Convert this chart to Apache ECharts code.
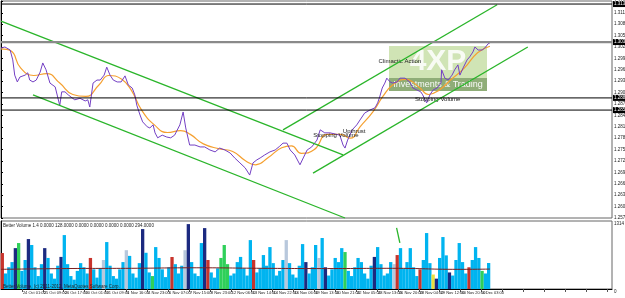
<!DOCTYPE html>
<html><head><meta charset="utf-8">
<script src="https://cdn.jsdelivr.net/npm/echarts@6/dist/echarts.min.js"></script>
<style>html,body{margin:0;padding:0;background:#fff}#c{width:625px;height:298px}</style>
</head><body><div id="c"></div>
<script>
// time labels, one every 32 hourly bars
const timeLabels = ["22 Oct 2012","24 Oct 01:00","25 Oct 09:00","26 Oct 17:00","30 Oct 01:00","31 Oct 09:00","1 Nov 16:00","4 Nov 23:00","6 Nov 07:00","7 Nov 15:00","8 Nov 23:00","12 Nov 06:00","13 Nov 14:00","14 Nov 22:00","16 Nov 06:00","19 Nov 13:00","20 Nov 21:00","22 Nov 05:00","23 Nov 13:00","26 Nov 20:00","28 Nov 04:00","29 Nov 12:00","30 Nov 20:00","4 Dec 03:00"];
// price (bar index, close)
const priceBars = [0,6,14,18,21,25,29,37,41,44,49,54,60,64,69,75,83,90,93,98,103,109,113,121,129,133,136,141,147,152,158,162,167,172,178,184,190,195,201,205,208,213,217,224,228,233,236,240,247,254,260,266,274,279,283,289,297,305,312,320,328,335,343,351,358,366,374,381,386,392,397,404,412,420,427,432,438,443,450,458,463,469,476,484,489,496,504,512,519,524,527,531,538,545,550,557,565,573,577,580,584,588,591,596,600,607,611,619,626,631,637,643,646,652,657,662,668,674,675,680,685,691,695,700,703,708,714,718,723,726,731,737,741,746,749];
const priceVals = [1.3017,1.3020,1.3012,1.2986,1.2946,1.2928,1.2941,1.2946,1.2952,1.2933,1.2928,1.2933,1.2954,1.2978,1.2960,1.2925,1.2915,1.2866,1.2902,1.2902,1.2894,1.2886,1.2881,1.2885,1.2878,1.2881,1.2862,1.2925,1.2933,1.2933,1.2946,1.2967,1.2946,1.2933,1.2928,1.2928,1.2944,1.2920,1.2912,1.2894,1.2867,1.2841,1.2823,1.2810,1.2807,1.2815,1.2794,1.2781,1.2788,1.2783,1.2781,1.2788,1.2815,1.2849,1.2807,1.2762,1.2762,1.2757,1.2757,1.2749,1.2744,1.2754,1.2749,1.2741,1.2728,1.2715,1.2702,1.2683,1.2715,1.2723,1.2728,1.2736,1.2744,1.2749,1.2759,1.2767,1.2767,1.2749,1.2736,1.2710,1.2728,1.2749,1.2757,1.2775,1.2802,1.2794,1.2794,1.2791,1.2788,1.2762,1.2754,1.2775,1.2802,1.2815,1.2828,1.2846,1.2854,1.2860,1.2873,1.2888,1.2912,1.2925,1.2938,1.2928,1.2925,1.2928,1.2938,1.2938,1.2928,1.2912,1.2907,1.2902,1.2894,1.2873,1.2894,1.2907,1.2912,1.2925,1.2960,1.2938,1.2933,1.2946,1.2960,1.2973,1.2946,1.2965,1.2986,1.2994,1.3007,1.3020,1.3012,1.3012,1.3017,1.3028,1.3031];
// moving average of price
const maBars = [0,15,30,50,70,90,110,130,150,165,185,200,215,235,255,275,290,310,335,355,375,390,410,430,445,460,480,500,520,535,550,570,585,600,620,640,655,670,690,710,730,749];
const maVals = [1.3015,1.3010,1.2965,1.2945,1.2950,1.2925,1.2895,1.2890,1.2920,1.2945,1.2935,1.2905,1.2855,1.2815,1.2795,1.2800,1.2790,1.2765,1.2752,1.2745,1.2720,1.2710,1.2730,1.2755,1.2760,1.2740,1.2750,1.2790,1.2790,1.2780,1.2810,1.2850,1.2890,1.2920,1.2935,1.2915,1.2895,1.2905,1.2935,1.2965,1.3005,1.3022];
// horizontal levels
const levels = [1.3133, 1.2886, 1.2854];
const bidLevel = 1.3033;
// trend lines [bar, price] pairs
const trendLines = [
  [[0,1.3088],[524,1.2736]],
  [[49,1.2894],[527,1.2570]],
  [[432,1.2802],[760,1.3131]],
  [[478,1.2688],[807,1.3020]]
];
// volume, one value per 5 bars; codes: c cyan, w white, g green, r red, n navy, y yellow
const volVals = [695,300,420,520,790,888,350,560,965,850,420,250,480,790,600,300,200,450,620,1042,480,250,180,350,500,420,300,600,380,220,400,560,907,450,250,200,380,520,750,640,300,220,500,1158,700,320,250,810,600,380,230,420,618,480,300,450,750,1254,520,300,250,888,1177,560,320,220,400,600,850,480,260,300,520,620,400,260,945,560,320,400,656,450,810,500,260,350,560,945,500,280,220,450,868,520,300,420,850,600,985,420,260,380,600,520,790,714,350,250,420,600,520,300,200,450,620,810,480,260,300,520,480,656,790,400,520,790,420,250,380,560,1081,500,280,200,600,1004,650,320,260,560,888,520,300,420,560,810,600,350,300,502];
const volCodes = "rcccngccnccccnccccnccccccccrcccwccccccwccccnccgcccccrcccwnccccnrcccgggcccccccrcccccccccwcccccncccwcncccccgccccccccncccccwrccccccrcccyncccncccccrcccg";
const volMABars = [0,100,200,300,400,500,600,700,749];
const volMAVals = [380,395,400,410,400,395,400,380,385];
const volSpike = [[606,1180],[611,890]];
const annotations = [
  {name:"Climactic Action", coord:[611,1.2981]},
  {name:"Stopping Volume", coord:[669,1.2883]},
  {name:"Stopping Volume", coord:[513,1.2788]},
  {name:"Upthrust", coord:[541,1.2799]}
];

const colorMap = {c:'#00b4f0', w:'#b8c8dc', g:'#2fd05a', r:'#c8342c', n:'#1c2a80', y:'#e8e040'};
const FONT = 'Liberation Sans, Arial, sans-serif';
const X_MAX = 936;

const chart = echarts.init(document.getElementById('c'), null, {renderer:'canvas'});
const pricePts = priceBars.map((b,i)=>[b,priceVals[i]]);
const maPts = maBars.map((b,i)=>[b,maVals[i]]);
const volPts = volVals.map((v,i)=>({value:[i*5+2, v], itemStyle:{color:colorMap[volCodes[i]]||colorMap.c}}));
const volMAPts = volMABars.map((b,i)=>[b,volMAVals[i]]);

function levelSeries(v, color, width){
  return {type:'line', xAxisIndex:0, yAxisIndex:0, data:[[0,v],[X_MAX,v]], symbol:'none', silent:true, z:6,
    lineStyle:{color:color, width:width},
    endLabel:{show:true, distance:1, formatter:()=>v.toFixed(4), backgroundColor:'#000', color:'#fff', fontSize:4.5, fontFamily:FONT, padding:[1,1,0,1]}};
}

const series = [
  {type:'line', xAxisIndex:0, yAxisIndex:0, data:maPts, smooth:0.5, symbol:'none', lineStyle:{color:'#f5a030', width:1.2}, z:3, silent:true},
  {type:'line', xAxisIndex:0, yAxisIndex:0, data:pricePts, symbol:'none', lineStyle:{color:'#7440c4', width:1}, z:4, silent:true,
    markPoint:{silent:true, symbol:'circle', symbolSize:0, animation:false,
      label:{show:true, color:'#222', fontSize:6, fontFamily:FONT, position:'inside'},
      data:annotations.map(a=>({name:a.name, coord:a.coord, value:a.name}))}
  },
  ...levels.map(v=>levelSeries(v,'#000',1)),
  levelSeries(bidLevel,'#8a8a8a',2.2),
  ...trendLines.map(tl=>({type:'line', xAxisIndex:0, yAxisIndex:0, data:tl, symbol:'none', lineStyle:{color:'#2ab52a', width:1.3}, z:5, silent:true})),
  {type:'bar', xAxisIndex:1, yAxisIndex:1, data:volPts, barWidth:3.3, z:2, silent:true},
  {type:'line', xAxisIndex:1, yAxisIndex:1, data:volMAPts, symbol:'none', smooth:true, lineStyle:{color:'#7a1f1f', width:1}, z:4, silent:true},
  {type:'line', xAxisIndex:1, yAxisIndex:1, data:volSpike, symbol:'none', lineStyle:{color:'#2ab52a', width:1.3}, z:5, silent:true}
];

chart.setOption({
  animation:false,
  backgroundColor:'#fff',
  grid:[
    {left:1, top:1, width:611, height:217, containLabel:false, outerBoundsMode:'none', show:true, borderColor:'#666', borderWidth:1, backgroundColor:'transparent'},
    {left:1, top:221, width:611, height:68, containLabel:false, outerBoundsMode:'none', show:true, borderColor:'#666', borderWidth:1, backgroundColor:'transparent'}
  ],
  xAxis:[
    {gridIndex:0, type:'value', min:0, max:X_MAX, interval:32, axisLine:{show:false}, axisTick:{show:false}, axisLabel:{show:false}, splitLine:{show:false}},
    {gridIndex:1, type:'value', min:0, max:X_MAX, interval:32, axisLine:{show:true, lineStyle:{color:'#000'}}, splitLine:{show:false},
      axisTick:{show:true, length:3, lineStyle:{color:'#555'}},
      axisLabel:{show:true, showMaxLabel:false, hideOverlap:false, margin:2, align:'left', padding:[0,0,0,1], fontSize:4, color:'#222', fontFamily:FONT,
        formatter:v=>{const k=Math.round(v/32); return (Math.abs(v-k*32)<1e-6 && timeLabels[k])?timeLabels[k]:'';}}}
  ],
  yAxis:[
    {gridIndex:0, type:'value', position:'right', min:1.2570, max:1.3141, interval:0.003, axisLine:{show:true, lineStyle:{color:'#000'}},
      axisTick:{show:true, length:2, lineStyle:{color:'#000'}}, splitLine:{show:false},
      axisLabel:{show:true, showMaxLabel:false, hideOverlap:false, margin:2, fontSize:4.5, color:'#222', fontFamily:FONT, formatter:v=>v.toFixed(4)}},
    {gridIndex:1, type:'value', position:'right', min:0, max:1314, interval:1314, axisLine:{show:true, lineStyle:{color:'#000'}},
      axisTick:{show:false}, splitLine:{show:false},
      axisLabel:{show:true, margin:2, fontSize:4.5, color:'#222', fontFamily:FONT, verticalAlign:'top', formatter:v=>v===0?'0':String(v)}}
  ],
  graphic:[
    {type:'group', left:389, top:46, children:[
      {type:'rect', shape:{x:0,y:0,width:98,height:32}, style:{fill:'rgba(170,205,120,0.55)'}},
      {type:'rect', shape:{x:0,y:32,width:98,height:13}, style:{fill:'rgba(105,145,75,0.75)'}},
      {type:'text', x:49, y:16, style:{text:'4XP', fill:'rgba(255,255,255,0.85)', font:'bold 30px '+FONT, align:'center', verticalAlign:'middle'}},
      {type:'text', x:49, y:39, style:{text:'Investments & Trading', fill:'rgba(255,255,255,0.95)', font:'9px '+FONT, align:'center', verticalAlign:'middle'}}
    ], z:1},
    {type:'text', left:3, top:223, style:{text:'Better Volume 1.4 0.0000 128.0000 0.0000 0.0000 0.0000 0.0000 294.0000', fill:'#222', font:'4.5px '+FONT}, z:10},
    {type:'text', left:3, top:284, style:{text:'Better Volume, (c) 2011-2012, MetaQuotes Software Corp.', fill:'#222', font:'4.5px '+FONT}, z:10}
  ],
  series
});
</script></body></html>
